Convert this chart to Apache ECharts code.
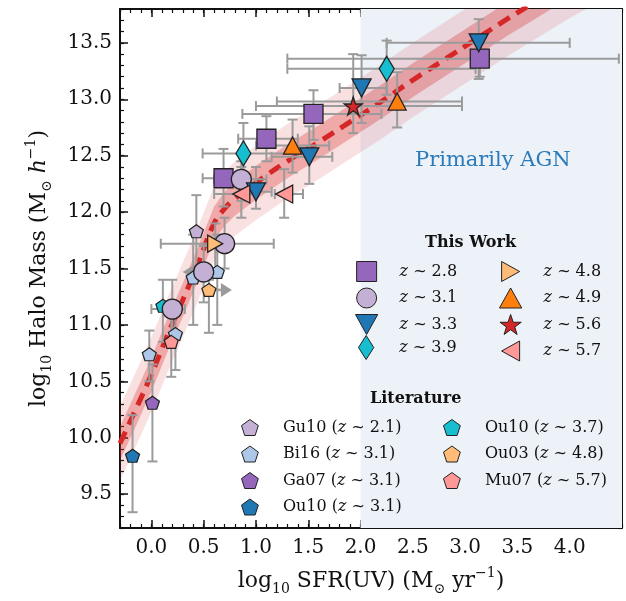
<!DOCTYPE html>
<html>
<head>
<meta charset="utf-8">
<script src="https://cdn.jsdelivr.net/npm/echarts@6/dist/echarts.min.js"></script>
<style>
  html, body { margin: 0; padding: 0; background: #fff; }
  #chart { width: 626px; height: 601px; }
</style>
</head>
<body>
<div id="chart"></div>
<script>
// axes
const xRange = [-0.3, 4.5];
const yRange = [9.2, 13.8];
const xMajor = [0, 0.5, 1, 1.5, 2, 2.5, 3, 3.5, 4];
const yMajor = [9.5, 10, 10.5, 11, 11.5, 12, 12.5, 13, 13.5];
const agnFrom = 2.0;

// best-fit relation and its two bands
const fitX = [-0.3, -0.15, 0.0, 0.15, 0.3, 0.45, 0.6, 0.7, 0.8, 1.0, 1.3, 1.6, 1.9, 2.2, 2.5, 2.8, 3.1, 3.4, 3.7, 4.0, 4.3];
const fitY = [9.95, 10.25, 10.56, 10.9, 11.22, 11.55, 11.9, 12.03, 12.12, 12.26, 12.45, 12.62, 12.8, 12.98, 13.17, 13.35, 13.53, 13.71, 13.88, 14.05, 14.2];
const innerLo = [9.8, 10.1, 10.41, 10.75, 11.07, 11.4, 11.75, 11.88, 11.97, 12.11, 12.3, 12.47, 12.65, 12.83, 13.02, 13.2, 13.38, 13.56, 13.73, 13.9, 14.05];
const innerHi = [10.1, 10.4, 10.71, 11.05, 11.37, 11.7, 12.05, 12.18, 12.27, 12.41, 12.6, 12.77, 12.95, 13.13, 13.32, 13.5, 13.68, 13.86, 14.03, 14.2, 14.35];
const outerLo = [9.62, 9.92, 10.23, 10.57, 10.89, 11.22, 11.57, 11.7, 11.79, 11.93, 12.12, 12.29, 12.47, 12.65, 12.84, 13.02, 13.2, 13.38, 13.55, 13.72, 13.87];
const outerHi = [10.28, 10.58, 10.89, 11.23, 11.55, 11.88, 12.23, 12.36, 12.45, 12.59, 12.78, 12.95, 13.13, 13.31, 13.5, 13.68, 13.86, 14.04, 14.21, 14.38, 14.53];

// this work: [x, y, xLow, xHigh, yLow, yHigh]
const z28 = [[0.69, 12.30, 0.49, 0.95, 12.05, 12.56], [1.10, 12.65, 0.83, 1.4, 12.45, 12.85], [1.55, 12.87, 0.87, 2.2, 12.64, 13.08], [3.14, 13.36, 1.3, 4.47, 13.2, 13.55]];
const z31 = [[0.86, 12.29, 0.6, 1.1, 12.1, 12.45], [0.70, 11.72, 0.09, 1.17, 11.5, 11.95], [0.50, 11.47, 0.5, 0.5, 11.2, 11.7], [0.20, 11.14, 0.0, 0.32, 10.85, 11.4]];
const z33 = [[1.00, 12.18, 0.85, 1.15, 12.03, 12.4], [1.51, 12.49, 1.15, 1.73, 12.25, 12.76], [2.01, 13.10, 1.8, 2.25, 12.79, 13.39], [3.13, 13.50, 2.25, 4.0, 13.18, 13.71]];
const z39 = [[0.88, 12.52, 0.49, 1.4, 12.26, 12.79], [2.25, 13.27, 1.3, 3.1, 13.04, 13.52]];
const z48 = [[0.61, 11.72, 0.55, 0.7, 11.5, 11.9]];
const z49 = [[1.35, 12.59, 1.0, 1.7, 12.35, 12.82], [2.35, 12.98, 1.2, 2.97, 12.75, 13.24]];
const z56 = [[1.93, 12.94, 1.0, 2.97, 12.7, 13.4]];
const z57 = [[0.86, 12.16, 0.6, 1.0, 11.95, 12.4], [1.27, 12.16, 1.18, 1.45, 11.95, 12.38]];

// literature
const gu10 = [[0.43, 11.83, 0.43, 0.43, 11.45, 12.15]];
const bi16 = [[-0.02, 10.74, -0.02, -0.02, 10.5, 10.95], [0.23, 10.92, 0.23, 0.23, 10.6, 11.2], [0.40, 11.42, 0.4, 0.4, 11.0, 11.8], [0.63, 11.47, 0.63, 0.63, 11.0, 11.8]];
const ga07 = [[0.01, 10.31, 0.01, 0.01, 9.79, 10.65]];
const ou10a = [[-0.18, 9.84, -0.18, -0.18, 9.34, 10.2]];
const ou10b = [[0.11, 11.17, 0.11, 0.11, 10.85, 11.4]];
const ou03 = [[0.55, 11.31, 0.55, 0.55, 10.93, 11.4]];
const mu07 = [[0.19, 10.85, 0.19, 0.19, 10.54, 11.2]];

// limit arrows: [xFrom, xTo, y]
const limitArrows = [[0.50, 0.30, 11.47], [0.55, 0.77, 11.31]];

const serif = "DejaVu Serif";
const ink = "#111";
const barGray = "#9b9b9b";

const shapes = {
  square: "path://M0,0 L10,0 L10,10 L0,10 Z",
  circle: "circle",
  down: "path://M0,0 L20,0 L10,18 Z",
  up: "path://M10,0 L20,18 L0,18 Z",
  right: "path://M0,0 L18,10 L0,20 Z",
  left: "path://M18,0 L0,10 L18,20 Z",
  diamond: "path://M7,0 L14,11 L7,22 L0,11 Z",
  star: "path://M50,0 L61.8,35.1 L98.1,35.1 L68.8,56.7 L79.4,90.5 L50,69 L20.6,90.5 L31.2,56.7 L1.9,35.1 L38.2,35.1 Z",
  pent: "path://M50,0 L97.6,34.5 L79.4,90.5 L20.6,90.5 L2.4,34.5 Z",
};

const workSets = [
  { name: "z ~ 2.8", data: z28, symbol: shapes.square, size: [19, 19], color: "#9467bd" },
  { name: "z ~ 3.1", data: z31, symbol: shapes.circle, size: [20, 20], color: "#c5b0d5" },
  { name: "z ~ 3.3", data: z33, symbol: shapes.down, size: [19, 18], color: "#1f77b4" },
  { name: "z ~ 3.9", data: z39, symbol: shapes.diamond, size: [15, 25], color: "#17becf" },
  { name: "z ~ 4.8", data: z48, symbol: shapes.right, size: [15, 17], color: "#ffbb78" },
  { name: "z ~ 4.9", data: z49, symbol: shapes.up, size: [18, 17], color: "#ff7f0e" },
  { name: "z ~ 5.6", data: z56, symbol: shapes.star, size: [18, 18], color: "#d62728" },
  { name: "z ~ 5.7", data: z57, symbol: shapes.left, size: [17, 18], color: "#ff9896" },
];
const litSets = [
  { name: "Gu10 (z ~ 2.1)", data: gu10, color: "#c5b0d5" },
  { name: "Bi16 (z ~ 3.1)", data: bi16, color: "#aec7e8" },
  { name: "Ga07 (z ~ 3.1)", data: ga07, color: "#9467bd" },
  { name: "Ou10 (z ~ 3.1)", data: ou10a, color: "#1f77b4" },
  { name: "Ou10 (z ~ 3.7)", data: ou10b, color: "#17becf" },
  { name: "Ou03 (z ~ 4.8)", data: ou03, color: "#ffbb78" },
  { name: "Mu07 (z ~ 5.7)", data: mu07, color: "#ff9896" },
];

const chart = echarts.init(document.getElementById("chart"), null, { renderer: "canvas" });

function renderBand(lo, hi, fill) {
  return function (params, api) {
    const pts = [];
    fitX.forEach((x, i) => pts.push(api.coord([x, lo[i]])));
    for (let i = fitX.length - 1; i >= 0; i--) pts.push(api.coord([fitX[i], hi[i]]));
    return { type: "polygon", shape: { points: pts }, style: { fill: fill } };
  };
}

function renderErrorBar(params, api) {
  const x = api.value(0), y = api.value(1);
  const xl = api.value(2), xh = api.value(3), yl = api.value(4), yh = api.value(5);
  const cap = 5;
  const style = { stroke: barGray, lineWidth: 2 };
  const kids = [];
  const seg = (a, b) => kids.push({ type: "line", shape: { x1: a[0], y1: a[1], x2: b[0], y2: b[1] }, style });
  if (xh > xl) {
    const a = api.coord([xl, y]), b = api.coord([xh, y]);
    seg(a, b);
    seg([a[0], a[1] - cap], [a[0], a[1] + cap]);
    seg([b[0], b[1] - cap], [b[0], b[1] + cap]);
  }
  if (yh > yl) {
    const a = api.coord([x, yl]), b = api.coord([x, yh]);
    seg(a, b);
    seg([a[0] - cap, a[1]], [a[0] + cap, a[1]]);
    seg([b[0] - cap, b[1]], [b[0] + cap, b[1]]);
  }
  return { type: "group", children: kids };
}

function renderArrow(params, api) {
  const a = api.coord([api.value(0), api.value(2)]);
  const b = api.coord([api.value(1), api.value(2)]);
  const dir = b[0] > a[0] ? 1 : -1;
  const head = 11;
  return {
    type: "group",
    children: [
      { type: "line", shape: { x1: a[0], y1: a[1], x2: b[0] - dir * head, y2: b[1] }, style: { stroke: barGray, lineWidth: 2.5 } },
      { type: "polygon", shape: { points: [[b[0], b[1]], [b[0] - dir * head, b[1] - 7], [b[0] - dir * head, b[1] + 7]] }, style: { fill: barGray } },
    ],
  };
}

const allBars = [...workSets, ...litSets].flatMap((s) => s.data);

function axisPair(dim, position, range, majors, labels) {
  const base = {
    type: "value",
    position,
    min: range[0],
    max: range[1],
    interval: 0.1,
    splitLine: { show: false },
  };
  const minor = Object.assign({}, base, {
    axisLine: { show: true, onZero: false, lineStyle: { color: ink, width: 2 } },
    axisTick: { show: true, inside: true, length: 4, lineStyle: { color: ink, width: 1.2 } },
    axisLabel: { show: false },
  });
  const major = Object.assign({}, base, {
    axisLine: { show: false, onZero: false },
    axisTick: { show: true, inside: true, length: 8, customValues: majors, lineStyle: { color: ink, width: 1.5 } },
    axisLabel: labels
      ? {
          show: true,
          customValues: majors,
          formatter: (v) => v.toFixed(1),
          fontFamily: serif,
          fontSize: 20,
          color: ink,
          margin: dim === "x" ? 10 : 8,
        }
      : { show: false },
  });
  return [minor, major];
}

const nameRich = {
  t: { fontFamily: serif, fontSize: 22, color: ink, lineHeight: 30 },
  s: { fontFamily: serif, fontSize: 14, color: ink, verticalAlign: "bottom", lineHeight: 16 },
  p: { fontFamily: serif, fontSize: 14, color: ink, verticalAlign: "top", lineHeight: 16 },
  i: { fontFamily: serif, fontSize: 22, color: ink, fontStyle: "italic", lineHeight: 30 },
};

const xAxes = [...axisPair("x", "bottom", xRange, xMajor, true), ...axisPair("x", "top", xRange, xMajor, false)];
const yAxes = [...axisPair("y", "left", yRange, yMajor, true), ...axisPair("y", "right", yRange, yMajor, false)];
xAxes[0].name = "{t|log}{s|10}{t| SFR(UV) (M}{s|⊙}{t| yr}{p|−1}{t|)}";
xAxes[0].nameLocation = "middle";
xAxes[0].nameGap = 38;
xAxes[0].nameTextStyle = { rich: nameRich };
yAxes[0].name = "{t|log}{s|10}{t| Halo Mass (M}{s|⊙}{t| }{i|h}{p|−1}{t|)}";
yAxes[0].nameLocation = "middle";
yAxes[0].nameGap = 66;
yAxes[0].nameTextStyle = { rich: nameRich };

function legendBlock(names, left, top, size, gap, fontSize) {
  return {
    data: names,
    orient: "vertical",
    left,
    top,
    itemWidth: 56,
    itemHeight: size,
    itemGap: gap,
    selectedMode: false,
    padding: 0,
    itemStyle: { borderColor: "#222", borderWidth: 1 },
    formatter: (n) => n.replace("z", "{i|z}"),
    textStyle: {
      fontFamily: serif,
      color: ink,
      fontSize,
      rich: { i: { fontFamily: serif, fontStyle: "italic", color: ink, fontSize } },
    },
  };
}

const series = [
  {
    type: "line",
    data: [],
    markArea: {
      silent: true,
      itemStyle: { color: "#edf1f8" },
      data: [[{ xAxis: agnFrom }, { xAxis: xRange[1] }]],
    },
    z: 1,
  },
  { type: "custom", renderItem: renderBand(outerLo, outerHi, "rgba(214,39,40,0.14)"), data: [[fitX[0], fitY[0]]], clip: true, silent: true, z: 2 },
  { type: "custom", renderItem: renderBand(innerLo, innerHi, "rgba(214,39,40,0.3)"), data: [[fitX[0], fitY[0]]], clip: true, silent: true, z: 2 },
  {
    type: "line",
    data: fitX.map((x, i) => [x, fitY[i]]),
    showSymbol: false,
    smooth: true,
    clip: true,
    lineStyle: { color: "#d62728", width: 5, type: [13, 8] },
    silent: true,
    z: 3,
  },
  { type: "custom", renderItem: renderErrorBar, data: allBars, clip: true, silent: true, z: 4 },
  { type: "custom", renderItem: renderArrow, data: limitArrows, clip: true, silent: true, z: 4 },
];
workSets.forEach((s) => {
  series.push({
    name: s.name,
    type: "scatter",
    data: s.data.map((d) => [d[0], d[1]]),
    symbol: s.symbol,
    symbolSize: s.size,
    itemStyle: { color: s.color, borderColor: "#222", borderWidth: 1.3, opacity: 1 },
    z: 6,
  });
});
litSets.forEach((s) => {
  series.push({
    name: s.name,
    type: "scatter",
    data: s.data.map((d) => [d[0], d[1]]),
    symbol: shapes.pent,
    symbolSize: [14, 13],
    itemStyle: { color: s.color, borderColor: "#222", borderWidth: 1.2, opacity: 1 },
    z: 5,
  });
});

chart.setOption({
  animation: false,
  backgroundColor: "#fff",
  grid: { left: 120, right: 4, top: 9, bottom: 72 },
  xAxis: xAxes,
  yAxis: yAxes,
  legend: [
    legendBlock(workSets.slice(0, 3).map((s) => s.name), 355, 261, 20, 5.5, 16),
    legendBlock([workSets[3].name], 358, 335, 24, 0, 16),
    legendBlock(workSets.slice(4).map((s) => s.name), 499, 261, 20, 5.5, 16),
    legendBlock(litSets.slice(0, 4).map((s) => s.name), 241, 419, 16, 9.5, 16),
    legendBlock(litSets.slice(4).map((s) => s.name), 443, 419, 16, 9.5, 16),
  ],
  graphic: [
    { type: "text", z: 100, left: 425, top: 235, style: { text: "This Work", fontFamily: serif, fontWeight: "bold", fontSize: 16, fill: ink } },
    { type: "text", z: 100, left: 370, top: 391, style: { text: "Literature", fontFamily: serif, fontWeight: "bold", fontSize: 16, fill: ink } },
    { type: "text", z: 100, left: 415, top: 150, style: { text: "Primarily AGN", fontFamily: serif, fontSize: 21, fill: "#2b7bba" } },
  ],
  series,
});
</script>
</body>
</html>
